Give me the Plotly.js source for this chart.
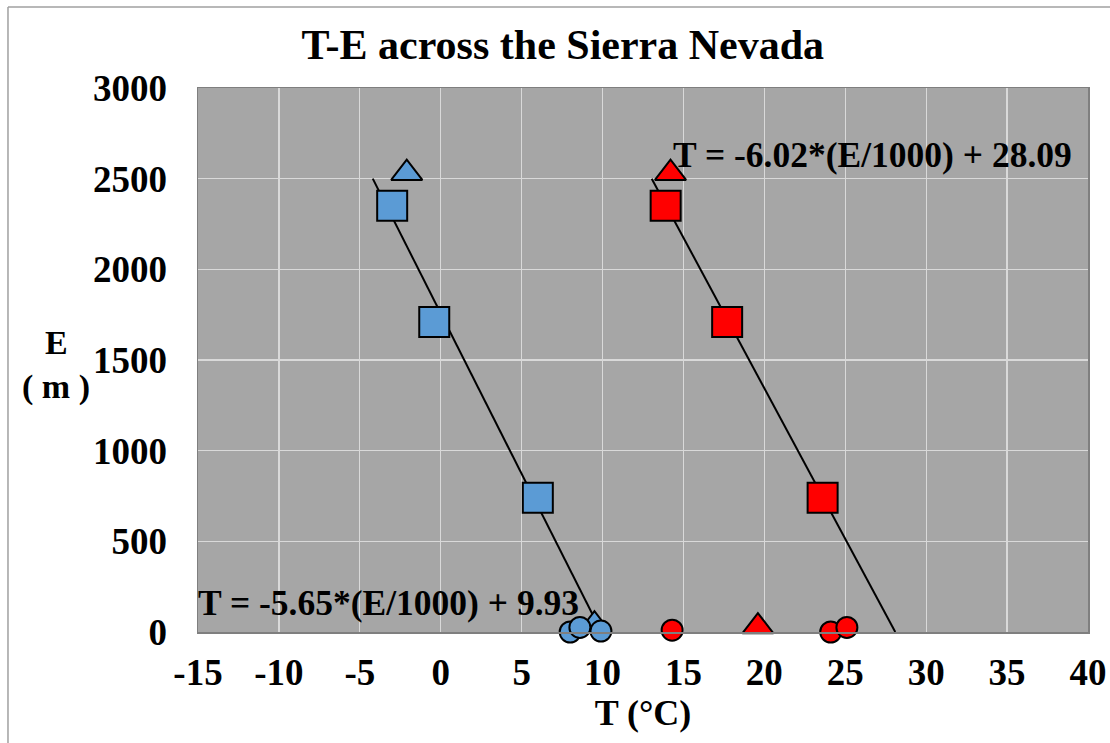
<!DOCTYPE html>
<html>
<head>
<meta charset="utf-8">
<script src="https://cdn.plot.ly/plotly-3.0.1.min.js"></script>
<style>
html,body{margin:0;padding:0;background:#fff;}
#chart{width:1110px;height:743px;}
</style>
</head>
<body>
<div id="chart"></div>
<script>
// West side (blue) observations
const blueSquareT = [-3.0, -0.4, 6.0];
const blueSquareE = [2350, 1710, 740];
const blueTriangleT = [-2.1];
const blueTriangleE = [2530];
const blueTriangleLowT = [9.5];
const blueTriangleLowE = [40];
const blueCircleT = [8.0, 8.6, 9.9];
const blueCircleE = [0, 25, 5];
// East side (red) observations
const redSquareT = [13.9, 17.7, 23.6];
const redSquareE = [2350, 1710, 740];
const redTriangleT = [14.2, 19.6];
const redTriangleE = [2530, 30];
const redCircleT = [14.3, 24.1, 25.1];
const redCircleE = [10, 0, 25];
// Fitted lines (end points)
const blueFitT = [-4.2, 9.93];
const blueFitE = [2500, 0];
const redFitT = [13.04, 28.09];
const redFitE = [2500, 0];
// Labels
const blueEq = "T = -5.65*(E/1000) + 9.93";
const redEq = "T = -6.02*(E/1000) + 28.09";
const xTicks = [-15, -10, -5, 0, 5, 10, 15, 20, 25, 30, 35, 40];
const yTicks = [0, 500, 1000, 1500, 2000, 2500, 3000];

const FONT = "Liberation Serif";
const BLUE = "#5b9bd5";
const RED = "#ff0000";
const ol = {color: "#000", width: 2};

function pts(x, y, color, symbol, size) {
  return {x: x, y: y, type: "scatter", mode: "markers", showlegend: false, hoverinfo: "skip", cliponaxis: false,
    marker: {color: color, symbol: symbol, size: size, line: ol}};
}

const data = [
  {x: blueFitT, y: blueFitE, type: "scatter", mode: "lines", line: {color: "#000", width: 2}, showlegend: false, hoverinfo: "skip"},
  {x: redFitT, y: redFitE, type: "scatter", mode: "lines", line: {color: "#000", width: 2}, showlegend: false, hoverinfo: "skip"},
  pts(blueTriangleLowT, blueTriangleLowE, BLUE, "triangle-up", 27),
  pts(blueSquareT, blueSquareE, BLUE, "square", 30),
  pts(blueTriangleT, blueTriangleE, BLUE, "triangle-up", 27),
  pts(blueCircleT, blueCircleE, BLUE, "circle", 21),
  pts(redSquareT, redSquareE, RED, "square", 30),
  pts(redTriangleT, redTriangleE, RED, "triangle-up", 27),
  pts(redCircleT, redCircleE, RED, "circle", 21)
];

const axisCommon = {
  showgrid: true, gridcolor: "#d9d9d9", gridwidth: 1.2,
  zeroline: false, showline: true, linecolor: "#7f7f7f", linewidth: 1.5, mirror: true,
  ticks: "", tickfont: {family: FONT, size: 37, color: "#000", weight: "bold"},
  fixedrange: true
};

const layout = {
  width: 1110, height: 743,
  margin: {l: 198, r: 22, t: 88, b: 111},
  paper_bgcolor: "#ffffff", plot_bgcolor: "#a6a6a6",
  font: {family: FONT, color: "#000"},
  showlegend: false,
  title: {text: "<b>T-E across the Sierra Nevada</b>", font: {family: FONT, size: 42, color: "#000"},
    x: 0.507, xref: "container", xanchor: "center", y: 0.941, yref: "container", yanchor: "middle"},
  xaxis: Object.assign({}, axisCommon, {
    range: [-15, 40], tickvals: xTicks, ticktext: xTicks.map(String), ticklabelstandoff: 7,
    title: {text: "<b>T (°C)</b>", font: {family: FONT, size: 36, color: "#000"}, standoff: 6}
  }),
  yaxis: Object.assign({}, axisCommon, {
    range: [0, 3000], tickvals: yTicks, ticktext: yTicks.map(String), ticklabelstandoff: 22
  }),
  annotations: [
    {text: "<b>E</b>", xref: "paper", yref: "paper", x: -0.159, y: 0.533, xanchor: "center", yanchor: "middle", showarrow: false,
      font: {family: FONT, size: 34, color: "#000"}},
    {text: "<b>( m )</b>", xref: "paper", yref: "paper", x: -0.159, y: 0.45, xanchor: "center", yanchor: "middle", showarrow: false,
      font: {family: FONT, size: 34, color: "#000"}},
    {text: "<b>" + blueEq + "</b>", xref: "paper", yref: "paper", x: -0.002, y: 0.053, xanchor: "left", yanchor: "middle", showarrow: false,
      font: {family: FONT, size: 35.5, color: "#000"}},
    {text: "<b>" + redEq + "</b>", xref: "paper", yref: "paper", x: 0.531, y: 0.877, xanchor: "left", yanchor: "middle", showarrow: false,
      font: {family: FONT, size: 35.5, color: "#000"}}
  ],
  shapes: [
    {type: "line", xref: "paper", yref: "paper", x0: -0.2135, x1: 1.03, y0: 1.149, y1: 1.149, line: {color: "#a0a0a0", width: 1.5}},
    {type: "line", xref: "paper", yref: "paper", x0: -0.2135, x1: -0.2135, y0: 1.149, y1: -0.21, line: {color: "#a0a0a0", width: 1.5}}
  ]
};

Plotly.newPlot("chart", data, layout, {staticPlot: true, displayModeBar: false});
</script>
</body>
</html>
